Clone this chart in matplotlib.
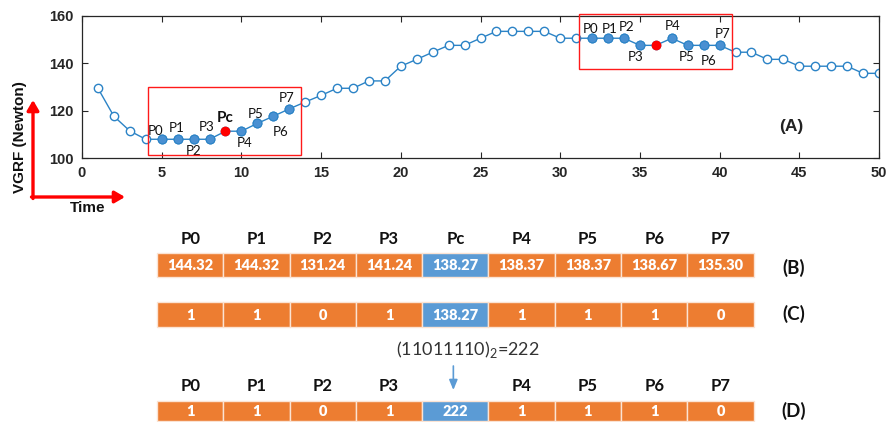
import matplotlib

matplotlib.use("Agg")
import matplotlib.pyplot as plt
from matplotlib.patches import Rectangle

# ---- data ----
TIME = list(range(1, 51))
VGRF = [
    129.4, 117.6, 111.4, 107.9, 107.9, 107.9, 107.9, 107.9, 111.3, 111.3,
    114.6, 117.6, 120.7, 123.6, 126.4, 129.4, 129.4, 132.5, 132.5, 138.7,
    141.6, 144.6, 147.5, 147.5, 150.5, 153.4, 153.4, 153.4, 153.4, 150.5,
    150.5, 150.5, 150.5, 150.5, 147.5, 147.5, 150.5, 147.5, 147.5, 147.5,
    144.6, 144.6, 141.6, 141.6, 138.7, 138.7, 138.7, 138.7, 135.7, 135.7,
]
WINDOW_CENTERS = [9, 36]
NEIGHBOURS = ["P0", "P1", "P2", "P3", "P4", "P5", "P6", "P7"]
X_TICKS = [0, 5, 10, 15, 20, 25, 30, 35, 40, 45, 50]
Y_TICKS = [100, 120, 140, 160]

HEADERS = ["P0", "P1", "P2", "P3", "Pc", "P4", "P5", "P6", "P7"]
ROW_B = ["144.32", "144.32", "131.24", "141.24", "138.27", "138.37", "138.37", "138.67", "135.30"]
ROW_C = ["1", "1", "0", "1", "138.27", "1", "1", "1", "0"]
ROW_D = ["1", "1", "0", "1", "222", "1", "1", "1", "0"]
CODE_TEXT = "(11011110)$_2$=222"

# ---- style ----
LINE_C = "#2b83c6"
FILL_C = "#4a90d2"
ORANGE = "#ed7d31"
BLUE = "#5b9bd5"
PX = 0.72  # points per pixel at dpi 100

# label offsets (pixels, y down) for each window, keyed by label
LABEL_OFFSETS = [
    {"P0": (-6.5, -8), "P1": (-1, -11), "P2": (0, 12), "P3": (-3, -12),
     "Pc": (0, -13.5), "P4": (3.5, 11.5), "P5": (-1.5, -9), "P6": (7.5, 15.5), "P7": (-2.5, -10.5)},
    {"P0": (-1.7, -9.5), "P1": (1.6, -9.5), "P2": (3, -11), "P3": (-4.3, 11.6),
     "P4": (1, -12), "P5": (-1, 11.6), "P6": (4.7, 15.6), "P7": (3.3, -11)},
]
BOX_Y = [(101.1, 130.1), (137.4, 160.6)]

plt.rcParams["mathtext.fontset"] = "custom"
plt.rcParams["mathtext.rm"] = "Lato"

fig = plt.figure(figsize=(8.86, 4.22), dpi=100)

# overlay in pixel coordinates for the schematic parts
ov = fig.add_axes([0, 0, 1, 1])
ov.set_xlim(0, 886)
ov.set_ylim(422, 0)
ov.axis("off")

ax = fig.add_axes([82 / 886, 1 - 158 / 422, 797 / 886, (158 - 15.7) / 422])
ax.plot(TIME, VGRF, color=LINE_C, lw=1.0, marker="o", ms=6, mfc="white",
        mec=LINE_C, mew=1.0, zorder=2)

for w, centre in enumerate(WINDOW_CENTERS):
    xs = [centre + d for d in range(-4, 5) if d != 0]
    ys = [VGRF[x - 1] for x in xs]
    ax.plot(xs, ys, "o", ms=6.4, mfc=FILL_C, mec=LINE_C, mew=0.8, zorder=3)
    ax.plot([centre], [VGRF[centre - 1]], "o", ms=6, mfc="#ff0000", mec="#ff0000", zorder=4)
    offs = LABEL_OFFSETS[w]
    for name, x, y in zip(NEIGHBOURS, xs, ys):
        dx, dy = offs[name]
        ax.annotate(name, (x, y), xytext=(dx * PX, -dy * PX), textcoords="offset points",
                    ha="center", va="center", fontsize=9.5, family="Lato", color="#111111")
    if "Pc" in offs:
        dx, dy = offs["Pc"]
        ax.annotate("Pc", (centre, VGRF[centre - 1]), xytext=(dx * PX, -dy * PX),
                    textcoords="offset points", ha="center", va="center",
                    fontsize=11, family="Lato", fontweight="bold", color="#111111")
    y0, y1 = BOX_Y[w]
    ax.add_patch(Rectangle((centre - 4.85, y0), 9.6, y1 - y0, fill=False,
                           ec="#ff1a1a", lw=1.0, clip_on=False, zorder=5))

ax.set_xlim(0, 50)
ax.set_ylim(100, 160)
ax.set_xticks(X_TICKS)
ax.set_yticks(Y_TICKS)
ax.tick_params(direction="in", length=4, width=0.8, top=True, right=True,
               colors="#262626", labelsize=10.5, pad=6)
for lab in ax.get_xticklabels() + ax.get_yticklabels():
    lab.set_family("Liberation Sans")
    lab.set_fontweight("bold")
for sp in ax.spines.values():
    sp.set_color("#262626")
    sp.set_linewidth(0.9)
ax.text(44.5, 113.2, "(A)", ha="center", va="center", fontsize=12.5,
        family="Liberation Sans", fontweight="bold", color="#222222")

# axis cue arrows
ov.annotate("", xy=(33, 100), xytext=(33, 198.5),
            arrowprops=dict(arrowstyle="-|>,head_length=0.6,head_width=0.35", color="#ff0000",
                            lw=2.4, shrinkA=0, shrinkB=0))
ov.annotate("", xy=(125, 197), xytext=(31.5, 197),
            arrowprops=dict(arrowstyle="-|>,head_length=0.6,head_width=0.35", color="#ff0000",
                            lw=2.4, shrinkA=0, shrinkB=0))
ov.text(20, 137, "VGRF (Newton)", rotation=90, ha="center", va="center", fontsize=11,
        family="Liberation Sans", fontweight="bold", color="#111111")
ov.text(87.5, 208, "Time", ha="center", va="center", fontsize=11,
        family="Liberation Sans", fontweight="bold", color="#111111")

# encoding rows
left, cell_w = 157, 66.3


def draw_row(values, top, bottom):
    for i, v in enumerate(values):
        colour = BLUE if HEADERS[i] == "Pc" else ORANGE
        ov.add_patch(Rectangle((left + i * cell_w, top), cell_w, bottom - top,
                               fc=colour, ec="#fbe3d3", lw=1.0))
        ov.text(left + (i + 0.5) * cell_w, (top + bottom) / 2 + 0.5, v, ha="center",
                va="center", color="white", fontsize=10.5, family="Lato", fontweight="heavy")


def draw_headers(y, skip_centre=False):
    for i, h in enumerate(HEADERS):
        if skip_centre and h == "Pc":
            continue
        ov.text(left + (i + 0.5) * cell_w, y, h, ha="center", va="center",
                fontsize=12, family="Lato", fontweight="bold", color="#111111")


draw_headers(239)
draw_row(ROW_B, 253, 277)
draw_row(ROW_C, 302, 327)
draw_headers(386, skip_centre=True)
draw_row(ROW_D, 401, 421)

for lab, y in [("(B)", 268), ("(C)", 314), ("(D)", 411)]:
    ov.text(794, y, lab, ha="center", va="center", fontsize=13.5, family="Lato",
            fontweight="bold", color="#111111")

pc_x = left + 4.5 * cell_w - 2
ov.text(468, 350, CODE_TEXT, ha="center", va="center", fontsize=13, family="Lato",
        color="#333333")
ov.annotate("", xy=(pc_x, 390), xytext=(pc_x, 366),
            arrowprops=dict(arrowstyle="-|>,head_length=0.6,head_width=0.25", color=BLUE,
                            lw=1.2, shrinkA=0, shrinkB=0))

fig.savefig("out.png", dpi=100)
